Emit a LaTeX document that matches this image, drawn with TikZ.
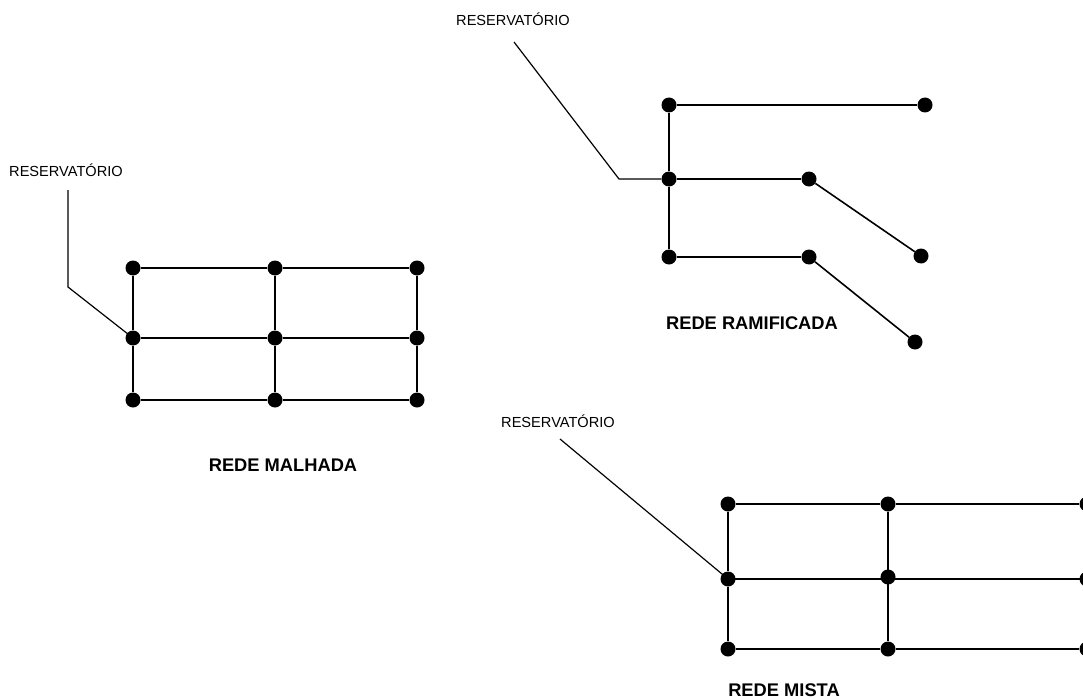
\documentclass[tikz,border=0pt]{standalone}
\usepackage{fontspec}
\setmainfont{Liberation Sans}
\begin{document}
\begin{tikzpicture}[x=1pt,y=-1pt,
  dot/.style={circle,fill=black,inner sep=0pt,minimum size=15pt},
  pipe/.style={line width=2pt},
  lead/.style={line width=1.2pt},
  lbl/.style={font=\fontsize{14.6}{16}\selectfont,inner sep=0pt},
  ttl/.style={font=\bfseries\fontsize{18.3}{20}\selectfont,inner sep=0pt}]
\useasboundingbox[fill=white] (0,0) rectangle (1083,698);
% ---------- REDE MALHADA ----------
\foreach \c/\x in {1/133,2/275,3/417}{
  \foreach \r/\y in {1/268,2/338,3/400}{
    \node[dot] (m\c\r) at (\x,\y) {};
  }
}
\draw[pipe] (m11) -- (m21) -- (m31);
\draw[pipe] (m12) -- (m22) -- (m32);
\draw[pipe] (m13) -- (m23) -- (m33);
\draw[pipe] (m11) -- (m12) -- (m13);
\draw[pipe] (m21) -- (m22) -- (m23);
\draw[pipe] (m31) -- (m32) -- (m33);
\node[lbl] (mres) at (66,170) {RESERVATÓRIO};
\coordinate (mla) at (68,190);
\coordinate (mlb) at (68,287);
\draw[lead] (mla) -- (mlb) -- (m12.center);
\node[ttl] (mttl) at (283,465) {REDE MALHADA};
% ---------- REDE RAMIFICADA ----------
\node[dot] (r1) at (669,105) {};
\node[dot] (r2) at (669,179) {};
\node[dot] (r3) at (669,257) {};
\node[dot] (r1e) at (925,105) {};
\node[dot] (r2a) at (809,179) {};
\node[dot] (r2e) at (921,256) {};
\node[dot] (r3a) at (809,257) {};
\node[dot] (r3e) at (915,342) {};
\draw[pipe] (r1) -- (r2) -- (r3);
\draw[pipe] (r1) -- (r1e);
\draw[pipe] (r2) -- (r2a);
\draw[pipe] (r3) -- (r3a);
\draw[pipe,line width=1.6pt] (r2a) -- (r2e);
\draw[pipe,line width=1.6pt] (r3a) -- (r3e);
\node[lbl] (rres) at (513,19) {RESERVATÓRIO};
\coordinate (rla) at (514,42);
\coordinate (rlb) at (619,179);
\draw[lead] (rla) -- (rlb) -- (r2);
\node[ttl] (rttl) at (752,323) {REDE RAMIFICADA};
% ---------- REDE MISTA ----------
\node[dot] (x11) at (728,504) {};
\node[dot] (x12) at (728,579) {};
\node[dot] (x13) at (728,649) {};
\node[dot] (x21) at (888,504) {};
\node[dot] (x22) at (888,577) {};
\node[dot] (x23) at (888,649) {};
\node[dot] (x31) at (1087,504) {};
\node[dot] (x32) at (1087,579) {};
\node[dot] (x33) at (1087,649) {};
\draw[pipe] (x11) -- (x21) -- (x31);
\draw[pipe] (x12.center) -- (x32.center);
\draw[pipe] (x13) -- (x23) -- (x33);
\draw[pipe,line width=1.5pt] (x11) -- (x12);
\draw[pipe] (x12) -- (x13);
\draw[pipe] (x21) -- (x23);
\node[lbl] (xres) at (558,421) {RESERVATÓRIO};
\coordinate (xla) at (560,439);
\draw[lead] (xla) -- (x12.center);
\node[ttl] (xttl) at (784,690) {REDE MISTA};
\end{tikzpicture}
\end{document}
